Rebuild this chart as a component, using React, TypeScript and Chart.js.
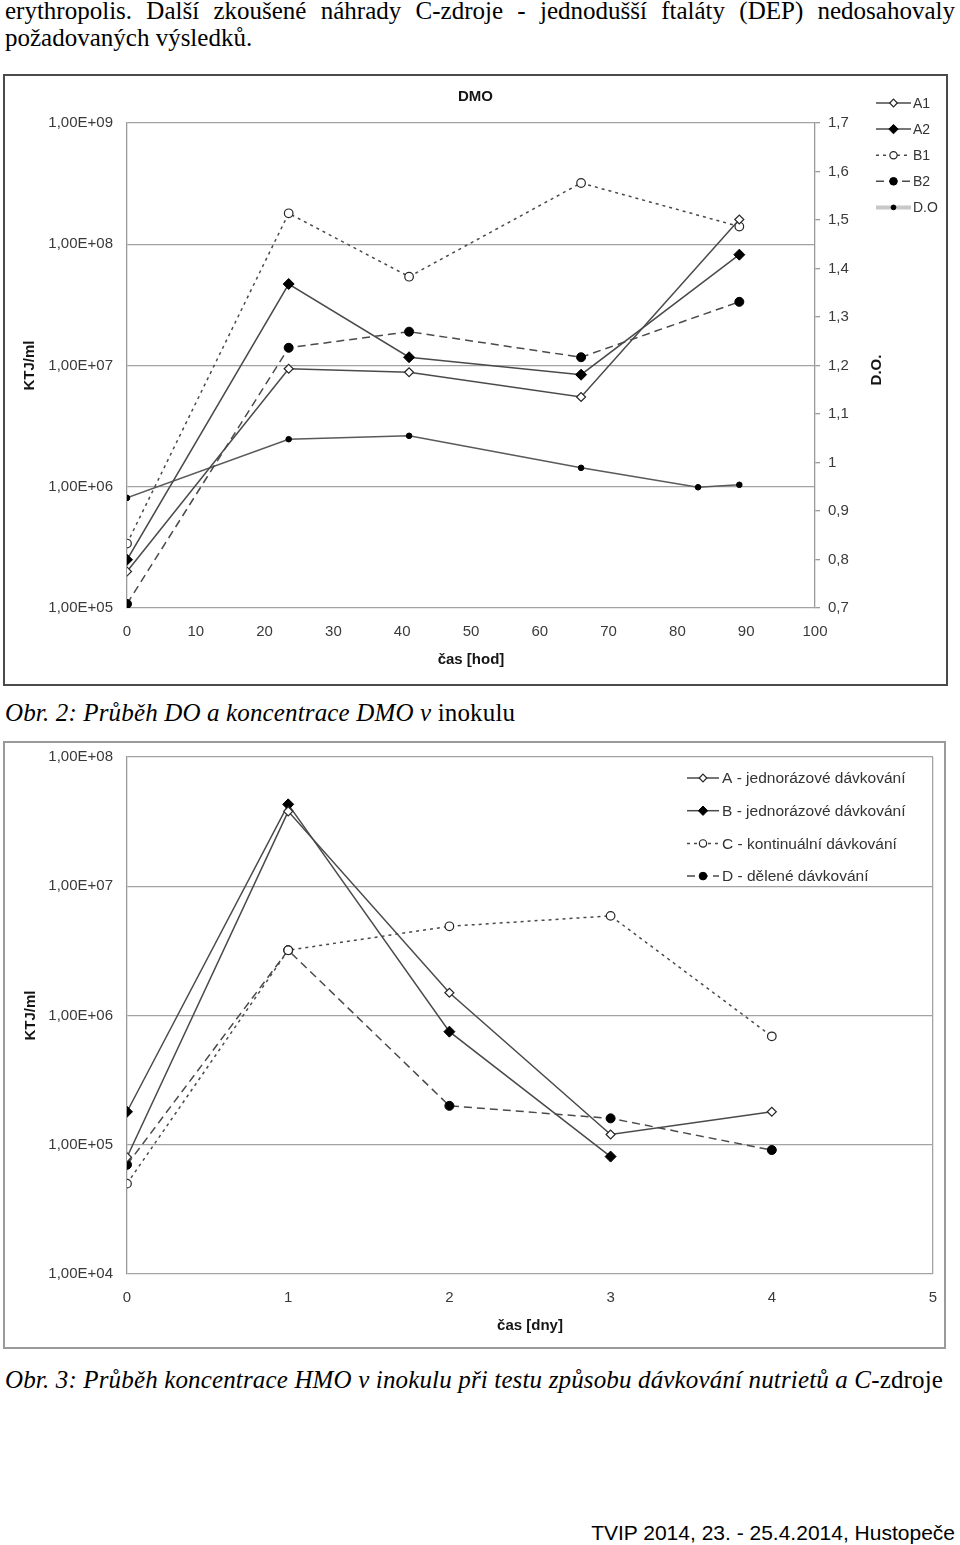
import React, { useEffect, useRef } from 'react';
import { Chart, registerables } from 'chart.js';

Chart.register(...registerables);

// ---------- data: chart 1 (DMO) ----------
const dmoHours = [0, 23.5, 41, 66, 89];
const dmoA1 = [2.0e5, 9.4e6, 8.8e6, 5.5e6, 1.6e8];
const dmoA2 = [2.5e5, 4.7e7, 1.17e7, 8.4e6, 8.2e7];
const dmoB1 = [3.4e5, 1.8e8, 5.4e7, 3.2e8, 1.4e8];
const dmoB2 = [1.08e5, 1.4e7, 1.9e7, 1.17e7, 3.35e7];
const doHours = [0, 23.5, 41, 66, 83, 89];
const doValues = [0.927, 1.048, 1.055, 0.989, 0.949, 0.954];
const dmoLogTicks = [1e5, 1e6, 1e7, 1e8, 1e9];
const dmoLabels = ['A1', 'A2', 'B1', 'B2', 'D.O'];

// ---------- data: chart 2 (HMO) ----------
const hmoDays = [0, 1, 2, 3, 4];
const hmoA = [8.0e4, 3.8e7, 1.5e6, 1.2e5, 1.8e5];
const hmoB = [1.8e5, 4.3e7, 7.5e5, 8.1e4];
const hmoC = [5.0e4, 3.2e6, 4.9e6, 5.9e6, 6.9e5];
const hmoD = [7.0e4, 3.2e6, 2.0e5, 1.6e5, 9.1e4];
const hmoLogTicks = [1e4, 1e5, 1e6, 1e7, 1e8];
const hmoLabels = [
  'A - jednorázové dávkování',
  'B - jednorázové dávkování',
  'C - kontinuální dávkování',
  'D - dělené dávkování',
];

// ---------- styles ----------
const SANS = '"Liberation Sans", Arial, sans-serif';
const SERIF = '"Liberation Serif", "Times New Roman", serif';
const LINE = '#4a4a4a';
const MARK = '#262626';

const openDiamond = { borderColor: LINE, borderWidth: 1.5, borderDash: [], pointStyle: 'rectRot', pointRadius: 4.5, pointBackgroundColor: '#fff', pointBorderColor: MARK, pointBorderWidth: 1.2 };
const fullDiamond = { borderColor: LINE, borderWidth: 1.5, borderDash: [], pointStyle: 'rectRot', pointRadius: 5.5, pointBackgroundColor: '#000', pointBorderColor: '#000', pointBorderWidth: 1 };
const openCircle = { borderColor: LINE, borderWidth: 1.5, borderDash: [3, 4], pointStyle: 'circle', pointRadius: 4.3, pointBackgroundColor: '#fff', pointBorderColor: MARK, pointBorderWidth: 1.2 };
const fullCircle = { borderColor: LINE, borderWidth: 1.5, borderDash: [8, 5], pointStyle: 'circle', pointRadius: 4.5, pointBackgroundColor: '#000', pointBorderColor: '#000', pointBorderWidth: 1 };
const doStyle = { borderColor: '#5a5a5a', borderWidth: 1.5, borderDash: [], pointStyle: 'circle', pointRadius: 2.8, pointBackgroundColor: '#000', pointBorderColor: '#000', pointBorderWidth: 1, legendLineColor: '#c8c8c8', legendLineWidth: 4 };

const pts = (xs: number[], ys: number[]) => ys.map((y, i) => ({ x: xs[i], y }));
const fmtSci = (v: number) => {
  const e = Math.round(Math.log10(v));
  return '1,00E+' + String(e).padStart(2, '0');
};
const fmtDec = (v: number) => String(Math.round(v * 10) / 10).replace('.', ',');

// ---------- plugins ----------
function drawMarker(ctx: any, s: any, x: number, y: number) {
  const r = s.pointRadius;
  ctx.beginPath();
  if (s.pointStyle === 'rectRot') {
    ctx.moveTo(x, y - r);
    ctx.lineTo(x + r, y);
    ctx.lineTo(x, y + r);
    ctx.lineTo(x - r, y);
    ctx.closePath();
  } else {
    ctx.arc(x, y, r, 0, Math.PI * 2);
  }
  ctx.fillStyle = s.pointBackgroundColor;
  ctx.fill();
  ctx.lineWidth = s.pointBorderWidth;
  ctx.strokeStyle = s.pointBorderColor;
  ctx.stroke();
}

const boxBorder = {
  id: 'boxBorder',
  afterDraw(chart: any, _a: any, o: any) {
    const ctx = chart.ctx;
    ctx.save();
    ctx.strokeStyle = o.color;
    ctx.lineWidth = o.width;
    ctx.strokeRect(o.width / 2, o.width / 2, chart.width - o.width, chart.height - o.width);
    ctx.restore();
  },
};

const seriesKey = {
  id: 'seriesKey',
  afterDraw(chart: any, _a: any, o: any) {
    const ctx = chart.ctx;
    ctx.save();
    o.items.forEach((it: any, i: number) => {
      const y = o.y0 + i * o.dy;
      const s = it.style;
      ctx.setLineDash(s.borderDash || []);
      ctx.strokeStyle = s.legendLineColor || s.borderColor;
      ctx.lineWidth = s.legendLineWidth || s.borderWidth;
      ctx.beginPath();
      ctx.moveTo(o.x0, y);
      ctx.lineTo(o.x1, y);
      ctx.stroke();
      ctx.setLineDash([]);
      drawMarker(ctx, { ...s, pointRadius: s.pointRadius * 0.85 }, (o.x0 + o.x1) / 2, y);
      ctx.fillStyle = o.color;
      ctx.font = o.font;
      ctx.textAlign = 'left';
      ctx.textBaseline = 'middle';
      ctx.fillText(it.label, o.xt, y + 1);
    });
    ctx.restore();
  },
};

const freeText = {
  id: 'freeText',
  afterDraw(chart: any, _a: any, o: any) {
    const ctx = chart.ctx;
    (o.items || []).forEach((t: any) => {
      ctx.save();
      ctx.translate(t.x, t.y);
      ctx.rotate((t.rotate || 0) * Math.PI / 180);
      ctx.font = t.font;
      ctx.fillStyle = t.color;
      ctx.textAlign = 'center';
      ctx.textBaseline = 'middle';
      ctx.fillText(t.text, 0, 0);
      ctx.restore();
    });
  },
};

const tickFont = { family: SANS, size: 15 };
const titleFont = { family: SANS, size: 15, weight: 'bold' as const };
const TICK = '#3a3a3a';
const TITLE = '#151515';
const GRID = '#a3a3a3';

const fixVertical = (w: number) => (s: any) => {
  s.width = w;
  s.paddingTop = 0;
  s.paddingBottom = 0;
};
const fixHorizontal = (h: number) => (s: any) => {
  s.height = h;
  s.paddingLeft = 0;
  s.paddingRight = 0;
};

function dmoConfig(): any {
  const styles = [openDiamond, fullDiamond, openCircle, fullCircle, doStyle];
  const series = [dmoA1, dmoA2, dmoB1, dmoB2];
  const datasets: any[] = series.map((s, i) => ({
    label: dmoLabels[i], data: pts(dmoHours, s), yAxisID: 'y', ...styles[i],
  }));
  datasets.push({ label: dmoLabels[4], data: pts(doHours, doValues), yAxisID: 'y1', ...doStyle });
  return {
    type: 'line',
    data: { datasets },
    options: {
      responsive: false,
      animation: false,
      layout: { padding: 0 },
      plugins: {
        legend: { display: false },
        tooltip: { enabled: false },
        title: { display: true, text: 'DMO', font: titleFont, color: TITLE, padding: { top: 14, bottom: 17 } },
        boxBorder: { color: '#4a4a4a', width: 2 },
        seriesKey: {
          x0: 873, x1: 908, xt: 910, y0: 29, dy: 26.1,
          font: '14px ' + SANS, color: '#333',
          items: dmoLabels.map((l, i) => ({ label: l, style: styles[i] })),
        },
        freeText: { items: [{ text: 'D.O.', x: 874, y: 296, rotate: -90, font: 'bold 15px ' + SANS, color: TITLE }] },
      },
      scales: {
        x: {
          type: 'linear', min: 0, max: 100,
          ticks: { stepSize: 10, padding: 15, font: tickFont, color: TICK, maxRotation: 0 },
          grid: { display: false, drawTicks: false },
          border: { display: false },
          title: { display: true, text: 'čas [hod]', font: titleFont, color: TITLE, padding: { top: 0, bottom: 17 } },
          afterFit: fixHorizontal(78),
        },
        y: {
          type: 'logarithmic', position: 'left', min: 1e5, max: 1e9,
          afterBuildTicks: (s: any) => { s.ticks = dmoLogTicks.map((v) => ({ value: v })); },
          ticks: { callback: (v: any) => fmtSci(Number(v)), padding: 14, font: tickFont, color: TICK },
          grid: { color: GRID, lineWidth: 1.3, drawTicks: false },
          border: { display: true, color: '#9a9a9a', width: 1.3 },
          title: { display: true, text: 'KTJ/ml', font: titleFont, color: TITLE, padding: { top: 18, bottom: 0 } },
          afterFit: fixVertical(124),
        },
        y1: {
          type: 'linear', position: 'right', min: 0.7, max: 1.7,
          ticks: { stepSize: 0.1, padding: 8, font: tickFont, color: TICK, callback: (v: any) => fmtDec(Number(v)) },
          grid: { drawOnChartArea: false, drawTicks: true, tickLength: 5, color: '#9a9a9a', lineWidth: 1.3 },
          border: { display: true, color: '#9a9a9a', width: 1.3 },
          afterFit: fixVertical(133),
        },
      },
    },
    plugins: [boxBorder, seriesKey, freeText],
  };
}

function hmoConfig(): any {
  const styles = [openDiamond, fullDiamond, openCircle, fullCircle];
  const series = [hmoA, hmoB, hmoC, hmoD];
  const datasets = series.map((s, i) => ({
    label: hmoLabels[i], data: pts(hmoDays, s), ...styles[i],
  }));
  return {
    type: 'line',
    data: { datasets },
    options: {
      responsive: false,
      animation: false,
      layout: { padding: { top: 16, right: 13, left: 0, bottom: 0 } },
      plugins: {
        legend: { display: false },
        tooltip: { enabled: false },
        boxBorder: { color: '#9a9a9a', width: 2 },
        seriesKey: {
          x0: 684, x1: 716, xt: 719, y0: 37, dy: 32.7,
          font: '15.5px ' + SANS, color: '#333',
          items: hmoLabels.map((l, i) => ({ label: l, style: styles[i] })),
        },
      },
      scales: {
        x: {
          type: 'linear', min: 0, max: 5,
          ticks: { stepSize: 1, padding: 15, font: tickFont, color: TICK, maxRotation: 0 },
          grid: {
            display: true, drawTicks: false, lineWidth: 1.3,
            color: (c: any) => (c.tick && c.tick.value === 5 ? GRID : 'rgba(0,0,0,0)'),
          },
          border: { display: false },
          title: { display: true, text: 'čas [dny]', font: titleFont, color: TITLE, padding: { top: 0, bottom: 14 } },
          afterFit: fixHorizontal(75),
        },
        y: {
          type: 'logarithmic', position: 'left', min: 1e4, max: 1e8,
          afterBuildTicks: (s: any) => { s.ticks = hmoLogTicks.map((v) => ({ value: v })); },
          ticks: { callback: (v: any) => fmtSci(Number(v)), padding: 14, font: tickFont, color: TICK },
          grid: { color: GRID, lineWidth: 1.3, drawTicks: false },
          border: { display: true, color: '#9a9a9a', width: 1.3 },
          title: { display: true, text: 'KTJ/ml', font: titleFont, color: TITLE, padding: { top: 19, bottom: 0 } },
          afterFit: fixVertical(124),
        },
      },
    },
    plugins: [boxBorder, seriesKey],
  };
}

function ChartCanvas({ make, left, top, width, height }: any) {
  const ref = useRef<HTMLCanvasElement | null>(null);
  useEffect(() => {
    const chart = new Chart(ref.current as HTMLCanvasElement, make());
    return () => chart.destroy();
  }, []);
  return (
    <canvas
      ref={ref}
      width={width}
      height={height}
      style={{ position: 'absolute', left, top, width, height, display: 'block' }}
    />
  );
}

const textBase: React.CSSProperties = {
  position: 'absolute',
  fontFamily: SERIF,
  fontSize: 25,
  lineHeight: '27px',
  color: '#000',
  whiteSpace: 'nowrap',
  margin: 0,
};

export default function App() {
  return (
    <div style={{ position: 'absolute', left: 0, top: 0, width: 960, height: 1545, background: '#fff', overflow: 'hidden' }}>
      <div style={{ ...textBase, left: 5, top: -3, width: 950, textAlign: 'justify', textAlignLast: 'justify' as any }}>
        erythropolis. Další zkoušené náhrady C-zdroje - jednodušší ftaláty (DEP) nedosahovaly
      </div>
      <div style={{ ...textBase, left: 5, top: 24 }}>požadovaných výsledků.</div>

      <ChartCanvas make={dmoConfig} left={3} top={74} width={945} height={612} />

      <div style={{ ...textBase, left: 5, top: 699, letterSpacing: '0.15px' }}>
        <i>Obr. 2: Průběh DO a koncentrace DMO v</i> inokulu
      </div>

      <ChartCanvas make={hmoConfig} left={3} top={741} width={943} height={608} />

      <div style={{ ...textBase, left: 5, top: 1366, letterSpacing: '0.15px' }}>
        <i>Obr. 3: Průběh koncentrace HMO v inokulu při testu způsobu dávkování nutrietů a C</i>-zdroje
      </div>

      <div style={{ position: 'absolute', right: 5, top: 1521, fontFamily: SANS, fontSize: 21, lineHeight: '24px', color: '#000', whiteSpace: 'nowrap' }}>
        TVIP 2014, 23. - 25.4.2014, Hustopeče
      </div>
    </div>
  );
}
